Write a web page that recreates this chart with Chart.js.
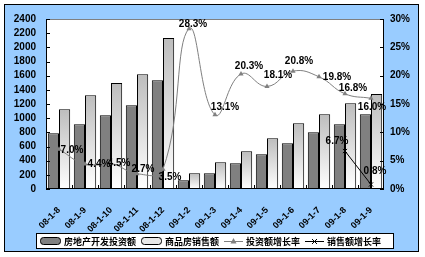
<!DOCTYPE html>
<html>
<head>
<meta charset="utf-8">
<script src="https://cdn.jsdelivr.net/npm/chart.js@4.4.1/dist/chart.umd.min.js"></script>
<style>
  html, body { margin: 0; padding: 0; background: #fff; }
  canvas { display: block; }
</style>
</head>
<body>
<canvas id="investChart" width="425" height="257"></canvas>
<script>
// categories (period labels)
const categories = ['08-1-8', '08-1-9', '08-1-10', '08-1-11', '08-1-12', '09-1-2', '09-1-3',
                    '09-1-4', '09-1-5', '09-1-6', '09-1-7', '09-1-8', '09-1-9'];
// 房地产开发投资额 / 商品房销售额 (left axis)
const investment = [788, 915, 1042, 1184, 1537, 123, 222, 362, 490, 645, 800, 915, 1054];
const sales = [1127, 1325, 1495, 1620, 2131, 222, 377, 532, 715, 928, 1054, 1210, 1340];
// growth rates in % (right axis)
const investGrowth = [7.0, 4.4, 4.5, 2.7, 3.5, 28.3, 13.1, 20.3, 18.1, 20.8, 19.8, 16.8, 16.0];
const salesGrowth = [null, null, null, null, null, null, null, null, null, null, null, 6.7, 0.8];
// axis ticks
const leftTicks = [0, 200, 400, 600, 800, 1000, 1200, 1400, 1600, 1800, 2000, 2200, 2400];
const rightTicks = [0, 5, 10, 15, 20, 25, 30];

// label nudges (dx, dy) from each point, style only
const investLabelShift = [[13, 1], [14, 0], [8, 0], [6, -4], [7, 8], [4, -4], [10, -8],
                          [8, -8], [11, -11], [6, -10], [18, 0], [8, -6], [1, 9]];
const salesLabelShift = [null, null, null, null, null, null, null, null, null, null, null, [-8, -10], [4, -13]];

const FONT = "'Liberation Sans', Arial, sans-serif";
const CJK = "'Noto Sans CJK SC', sans-serif";

Chart.defaults.font.family = FONT;
Chart.defaults.font.size = 10;
Chart.defaults.font.weight = 'bold';
Chart.defaults.color = '#000';

// light bars: vertical gray -> white gradient per bar
function lightBarFill(context) {
    const chart = context.chart;
    const y = chart.scales.y;
    if (!y || context.raw == null) return '#d8d8d8';
    const top = y.getPixelForValue(context.raw);
    const bottom = y.getPixelForValue(0);
    if (!Number.isFinite(top) || !Number.isFinite(bottom) || top === bottom) return '#d8d8d8';
    const g = chart.ctx.createLinearGradient(0, top, 0, bottom);
    g.addColorStop(0, '#bdbdbd');
    g.addColorStop(1, '#ffffff');
    return g;
}

const frame = {
    id: 'frame',
    beforeDraw(chart) {
        const { ctx, chartArea: a } = chart;
        ctx.save();
        ctx.fillStyle = '#fff';
        ctx.fillRect(0, 0, chart.width, chart.height);
        ctx.fillStyle = '#99ccff';
        ctx.fillRect(4, 4, 415, 248);
        ctx.strokeStyle = '#000';
        ctx.lineWidth = 1;
        ctx.strokeRect(4.5, 4.5, 414, 247);
        ctx.fillStyle = '#fff';
        ctx.fillRect(a.left, a.top, a.right - a.left, a.bottom - a.top);
        ctx.strokeStyle = '#808080';
        ctx.beginPath();
        ctx.moveTo(a.left, a.top + 0.5);
        ctx.lineTo(a.right, a.top + 0.5);
        ctx.stroke();
        ctx.restore();
    },
    afterDraw(chart) {
        const { ctx, chartArea: a, scales } = chart;
        ctx.save();
        ctx.strokeStyle = '#000';
        ctx.lineWidth = 1;
        ctx.beginPath();
        // axis lines
        ctx.moveTo(a.left + 0.5, a.top); ctx.lineTo(a.left + 0.5, a.bottom);
        ctx.moveTo(a.right - 0.5, a.top); ctx.lineTo(a.right - 0.5, a.bottom);
        ctx.moveTo(a.left, a.bottom - 0.5); ctx.lineTo(a.right, a.bottom - 0.5);
        // inside tick marks
        leftTicks.forEach(v => {
            const py = Math.round(scales.y.getPixelForValue(v)) + 0.5;
            ctx.moveTo(a.left, py); ctx.lineTo(a.left + 4, py);
        });
        rightTicks.forEach(v => {
            const py = Math.round(scales.y1.getPixelForValue(v)) + 0.5;
            ctx.moveTo(a.right, py); ctx.lineTo(a.right - 4, py);
        });
        const step = (a.right - a.left) / categories.length;
        for (let i = 1; i < categories.length; i++) {
            const px = Math.round(a.left + i * step) + 0.5;
            ctx.moveTo(px, a.bottom); ctx.lineTo(px, a.bottom - 4);
        }
        ctx.stroke();

        // legend box
        ctx.fillStyle = '#fff';
        ctx.fillRect(36, 233, 357, 15);
        ctx.strokeRect(36.5, 233.5, 357, 15);
        const names = chart.data.datasets.map(d => d.label);
        let x = 40;
        const cy = 241;
        ctx.font = 'bold 9px ' + CJK;
        ctx.textBaseline = 'middle';
        ctx.textAlign = 'left';
        names.forEach((name, i) => {
            if (i === 0 || i === 1) {
                ctx.fillStyle = i === 0 ? '#808080' : '#e8e8e8';
                ctx.beginPath();
                ctx.roundRect(x + 0.5, cy - 3.5, 20, 7, 3);
                ctx.fill();
                ctx.stroke();
                x += 24;
            } else {
                ctx.strokeStyle = i === 2 ? '#808080' : '#000';
                ctx.beginPath();
                ctx.moveTo(x, cy + 0.5); ctx.lineTo(x + 19, cy + 0.5);
                ctx.stroke();
                const mx = x + 9.5;
                if (i === 2) {
                    ctx.fillStyle = '#808080';
                    ctx.beginPath();
                    ctx.moveTo(mx, cy - 3); ctx.lineTo(mx + 3, cy + 2.5); ctx.lineTo(mx - 3, cy + 2.5);
                    ctx.closePath();
                    ctx.fill();
                } else {
                    ctx.beginPath();
                    ctx.moveTo(mx - 2.5, cy - 2); ctx.lineTo(mx + 2.5, cy + 3);
                    ctx.moveTo(mx + 2.5, cy - 2); ctx.lineTo(mx - 2.5, cy + 3);
                    ctx.stroke();
                }
                ctx.strokeStyle = '#000';
                x += 22;
            }
            ctx.fillStyle = '#000';
            ctx.fillText(name, x, cy + 0.5);
            x += ctx.measureText(name).width + 5;
        });
        ctx.restore();
    }
};

const pointLabels = {
    id: 'pointLabels',
    afterDatasetsDraw(chart) {
        const { ctx } = chart;
        ctx.save();
        ctx.font = 'bold 10px ' + FONT;
        ctx.fillStyle = '#000';
        ctx.textAlign = 'center';
        ctx.textBaseline = 'middle';
        [[2, investGrowth, investLabelShift], [3, salesGrowth, salesLabelShift]].forEach(([di, values, shift]) => {
            const meta = chart.getDatasetMeta(di);
            values.forEach((v, i) => {
                if (v == null) return;
                const pt = meta.data[i];
                const [dx, dy] = shift[i] || [8, -9];
                ctx.fillText(v.toFixed(1) + '%', pt.x + dx, pt.y + dy);
            });
        });
        ctx.restore();
    }
};

new Chart(document.getElementById('investChart'), {
    type: 'bar',
    data: {
        labels: categories,
        datasets: [
            {
                label: '房地产开发投资额',
                data: investment,
                backgroundColor: '#808080',
                borderColor: '#000',
                borderWidth: 1,
                categoryPercentage: 0.86,
                barPercentage: 1,
                yAxisID: 'y',
                order: 2
            },
            {
                label: '商品房销售额',
                data: sales,
                backgroundColor: lightBarFill,
                borderColor: '#000',
                borderWidth: 1,
                categoryPercentage: 0.86,
                barPercentage: 1,
                yAxisID: 'y',
                order: 2
            },
            {
                type: 'line',
                label: '投资额增长率',
                data: investGrowth,
                borderColor: '#808080',
                backgroundColor: '#808080',
                borderWidth: 1,
                tension: 0.45,
                pointStyle: 'triangle',
                pointRadius: 3,
                pointBorderWidth: 0,
                yAxisID: 'y1',
                order: 1
            },
            {
                type: 'line',
                label: '销售额增长率',
                data: salesGrowth,
                borderColor: '#000',
                backgroundColor: '#000',
                borderWidth: 1,
                tension: 0,
                pointStyle: 'crossRot',
                pointRadius: 3,
                pointBorderWidth: 1,
                yAxisID: 'y1',
                order: 0
            }
        ]
    },
    options: {
        responsive: false,
        animation: false,
        devicePixelRatio: 1,
        layout: { padding: { top: 19, left: 0, right: 0, bottom: 0 } },
        plugins: {
            legend: { display: false },
            tooltip: { enabled: false }
        },
        scales: {
            x: {
                offset: true,
                grid: { display: false, drawTicks: false },
                border: { display: false },
                ticks: {
                    minRotation: 45,
                    maxRotation: 45,
                    padding: 16,
                    font: { size: 9, weight: 'bold' },
                    autoSkip: false
                },
                afterFit(scale) { scale.height = 68; }
            },
            y: {
                position: 'left',
                min: 0,
                max: 2400,
                afterBuildTicks(scale) { scale.ticks = leftTicks.map(v => ({ value: v })); },
                grid: { display: false, drawTicks: false },
                border: { display: false },
                ticks: {
                    padding: 10,
                    autoSkip: false,
                    callback: v => String(v)
                },
                afterFit(scale) { scale.width = 46; }
            },
            y1: {
                position: 'right',
                min: 0,
                max: 30,
                afterBuildTicks(scale) { scale.ticks = rightTicks.map(v => ({ value: v })); },
                grid: { display: false, drawTicks: false },
                border: { display: false },
                ticks: {
                    padding: 6,
                    autoSkip: false,
                    callback: v => v + '%'
                },
                afterFit(scale) { scale.width = 41; }
            }
        }
    },
    plugins: [frame, pointLabels]
});
</script>
</body>
</html>
